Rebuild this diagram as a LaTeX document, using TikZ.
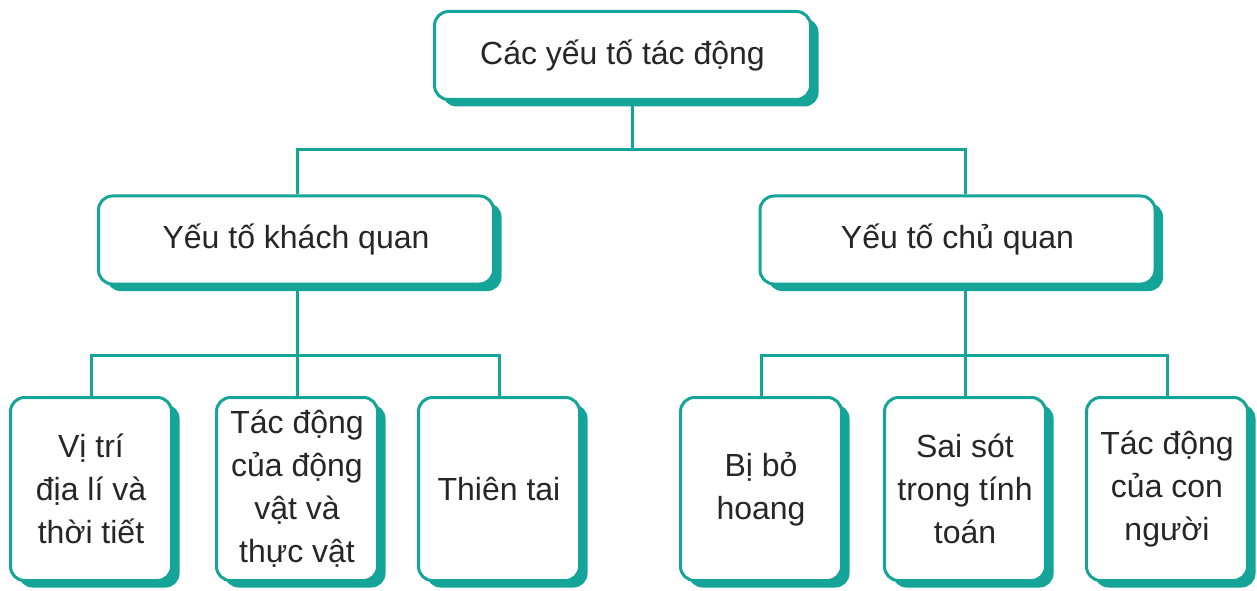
\documentclass[tikz,border=0pt]{standalone}
\usepackage{fontspec}
\setmainfont{Liberation Sans}
\usetikzlibrary{shadows}
\definecolor{tealline}{RGB}{20,165,152}

\begin{document}
\begin{tikzpicture}[x=1pt,y=1pt,
  box/.style={draw=tealline, line width=3pt, fill=white, rounded corners=14pt,
    drop shadow={shadow xshift=8pt, shadow yshift=-7pt, fill=tealline, opacity=1},
    font=\fontsize{32}{43}\selectfont, text=black!85, align=center, inner sep=2pt},
  midbox/.style={box, minimum width=395pt, minimum height=88pt},
  leafbox/.style={box, minimum width=161pt, minimum height=183pt},
  link/.style={draw=tealline, line width=3pt}]

\useasboundingbox (0,0) rectangle (1257,590);

% boxes
\node[box, minimum width=376pt, minimum height=88pt] (top) at (622.5,534.5) {Các yếu tố tác động};

\node[midbox] (kq) at (296,350) {Yếu tố khách quan};
\node[midbox] (cq) at (957.5,350) {Yếu tố chủ quan};

\node[leafbox] (vitri) at (91,101) {Vị trí\\địa lí và\\thời tiết};
\node[leafbox] (dongvat) at (297,101) {Tác động\\của động\\vật và\\thực vật};
\node[leafbox] (thientai) at (499,101) {Thiên tai};
\node[leafbox] (bohoang) at (761,101) {Bị bỏ\\hoang};
\node[leafbox] (saisot) at (965,101) {Sai sót\\trong tính\\toán};
\node[leafbox] (connguoi) at (1167,101) {Tác động\\của con\\người};

% branch points
\coordinate (t) at (632,440);
\coordinate (l) at (297,235);
\coordinate (r) at (965,235);

% connectors
\draw[link] (top.south -| t) -- (t);
\draw[link] (kq.north -| l) |- (t) -| (cq.north -| r);

\draw[link] (kq.south -| l) -- (l);
\draw[link] (vitri.north) |- (l) -| (thientai.north);
\draw[link] (l) -- (dongvat.north);

\draw[link] (cq.south -| r) -- (r);
\draw[link] (bohoang.north) |- (r) -| (connguoi.north);
\draw[link] (r) -- (saisot.north);

\end{tikzpicture}
\end{document}
